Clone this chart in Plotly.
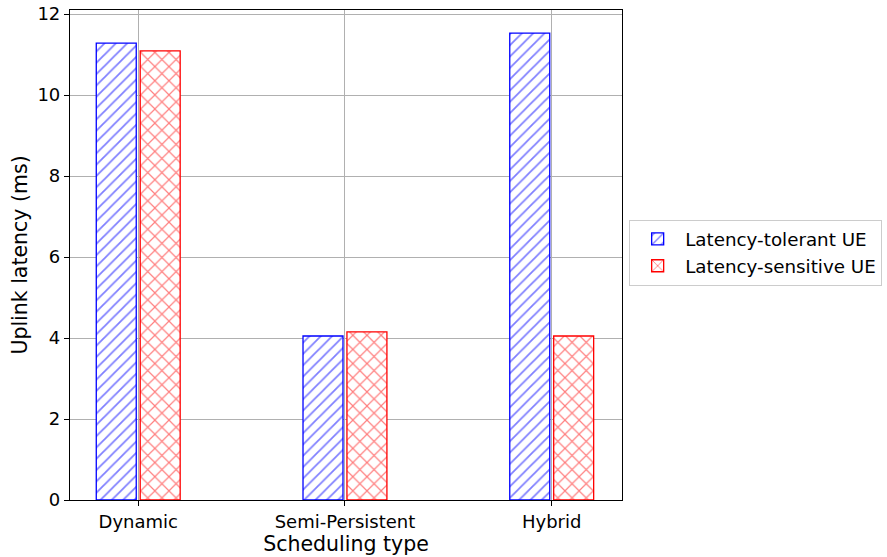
import plotly.graph_objects as go

categories = ["Dynamic", "Semi-Persistent", "Hybrid"]
tolerant = [11.28, 4.05, 11.53]
sensitive = [11.09, 4.15, 4.05]
y_ticks = [0, 2, 4, 6, 8, 10, 12]

FONT = "DejaVu Sans"

fig = go.Figure()
fig.add_trace(go.Bar(
    x=categories, y=tolerant, name="Latency-tolerant UE",
    marker=dict(color="white", line=dict(color="blue", width=1.3),
                pattern=dict(shape="/", fgcolor="blue", bgcolor="white", size=8, solidity=0.22)),
))
fig.add_trace(go.Bar(
    x=categories, y=sensitive, name="Latency-sensitive UE",
    marker=dict(color="white", line=dict(color="red", width=1.3),
                pattern=dict(shape="x", fgcolor="red", bgcolor="white", size=10, solidity=0.22)),
))

fig.update_layout(
    width=887, height=557,
    margin=dict(l=70, r=265, t=10, b=57, autoexpand=False),
    plot_bgcolor="white", paper_bgcolor="white",
    barmode="group", bargap=0.575, bargroupgap=0.09,
    font=dict(family=FONT, size=18, color="black"),
    legend=dict(x=1.013, xanchor="left", y=0.505, yanchor="middle",
                bordercolor="#cccccc", borderwidth=1, font=dict(size=18.3),
                bgcolor="white", itemwidth=45),
    showlegend=True,
)
fig.update_xaxes(
    range=[-0.33, 2.34], showgrid=True, gridcolor="#b0b0b0", gridwidth=1,
    showline=True, linecolor="black", linewidth=1.2, mirror=True,
    ticks="outside", ticklen=5, tickcolor="black", automargin=False,
    title=dict(text="Scheduling type", font=dict(size=20.5), standoff=0),
    tickfont=dict(size=18), ticklabeloverflow="allow",
)
fig.update_yaxes(
    range=[0, 12.1], tickvals=y_ticks, showgrid=True, gridcolor="#b0b0b0", gridwidth=1,
    showline=True, linecolor="black", linewidth=1.2, mirror=True,
    ticks="outside", ticklen=5, tickcolor="black", zeroline=False, automargin=False,
    title=dict(text="Uplink latency (ms)", font=dict(size=20.5), standoff=4),
    tickfont=dict(size=18), ticklabeloverflow="allow",
)

fig.write_html("out.html", config={"displayModeBar": False},
               post_script="document.body.style.margin='0';")
